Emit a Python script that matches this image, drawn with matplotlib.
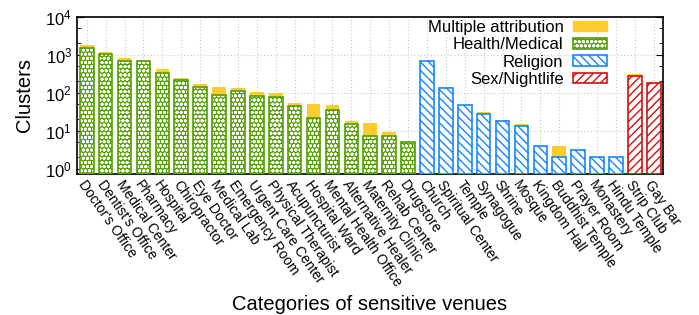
import matplotlib
matplotlib.use("Agg")
import matplotlib.pyplot as plt
import numpy as np
from matplotlib.patches import Patch
from matplotlib.legend_handler import HandlerTuple
from matplotlib.ticker import LogLocator, NullFormatter

plt.rcParams['font.family'] = ['Liberation Sans', 'DejaVu Sans']
plt.rcParams['hatch.linewidth'] = 1.0

health_names = ["Doctor's Office", "Dentist's Office", "Medical Center", "Pharmacy",
                "Hospital", "Chiropractor", "Eye Doctor", "Medical Lab", "Emergency Room",
                "Urgent Care Center", "Physical Therapist", "Acupuncturist", "Hospital Ward",
                "Mental Health Office", "Alternative Healer", "Maternity Clinic",
                "Rehab Center", "Drugstore"]
health_vals = [1490, 1020, 680, 668, 324, 212, 142, 86, 111, 82, 78, 44, 22, 35, 15, 7, 7, 5]
health_total = [1750, 1150, 796, 741, 412, 244, 167, 139, 131, 103, 97, 53, 50, 46, 18, 16, 9, 5]

religion_names = ["Church", "Spiritual Center", "Temple", "Synagogue", "Shrine", "Mosque",
                  "Kingdom Hall", "Buddhist Temple", "Prayer Room", "Monastery", "Hindu Temple"]
religion_vals = [668, 134, 46, 28, 18, 13, 4, 2, 3, 2, 2]
religion_total = [697, 139, 47, 30, 19, 15, 4, 4, 3, 2, 2]

sex_names = ["Strip Club", "Gay Bar"]
sex_vals = [282, 181]
sex_total = [310, 196]

green = '#52a000'
blue = '#1a85ff'
red = '#d01010'
yellow = '#fccb2f'

fig = plt.figure(figsize=(6.99, 3.15), dpi=100)
ax = fig.add_axes([0.110, 0.4476, 0.8385, 0.4994])

names = health_names + religion_names + sex_names
totals = health_total + religion_total + sex_total
x = np.arange(len(names))
w = 0.72
bottom = 0.72

xh = x[:len(health_names)]
xr = x[len(health_names):len(health_names) + len(religion_names)]
xs = x[len(health_names) + len(religion_names):]

# multiple attribution (total height behind)
ax.bar(x, np.array(totals) - bottom, w, bottom=bottom, color=yellow, linewidth=0, zorder=2)

# health: checker pattern
ax.bar(xh, np.array(health_vals) - bottom, w, bottom=bottom, facecolor=green,
       edgecolor='white', hatch='oooo', linewidth=0, zorder=3)
ax.bar(xh, np.array(health_vals) - bottom, w, bottom=bottom, facecolor='none',
       edgecolor=green, linewidth=1.2, zorder=4)
# religion
ax.bar(xr, np.array(religion_vals) - bottom, w, bottom=bottom, facecolor='white',
       edgecolor=blue, hatch='\\\\\\\\', linewidth=1.2, zorder=3)
# sex
ax.bar(xs, np.array(sex_vals) - bottom, w, bottom=bottom, facecolor='white',
       edgecolor=red, hatch='////', linewidth=1.2, zorder=3)

ax.set_yscale('log')
ax.set_ylim(bottom, 1e4)
ax.set_xlim(-0.52, len(names) - 0.51)
ax.yaxis.set_major_locator(LogLocator(base=10, numticks=10))
ax.yaxis.set_minor_locator(LogLocator(base=10, subs=(2, 5), numticks=10))
ax.yaxis.set_minor_formatter(NullFormatter())
ax.tick_params(axis='y', which='both', direction='in', left=True, right=True, labelsize=12)
ax.tick_params(axis='y', which='major', length=5)
ax.tick_params(axis='y', which='minor', length=3)
ax.set_xticks(x)
ax.set_xticklabels(names, rotation=-55, ha='left', va='top', rotation_mode='anchor', fontsize=10)
ax.tick_params(axis='x', length=0, pad=3)

ax.grid(True, which='major', color='#c8c8c8', linestyle=(0, (1, 2)), linewidth=0.8, zorder=0)
ax.set_axisbelow(True)
for s in ax.spines.values():
    s.set_linewidth(1.2)

ax.set_ylabel('Clusters', fontsize=14.5, labelpad=8)
ax.set_xlabel('Categories of sensitive venues', fontsize=14.5, labelpad=4)

green_handle = (Patch(facecolor=green, edgecolor='white', hatch='oooo', linewidth=0),
                Patch(facecolor='none', edgecolor=green, linewidth=1.2))
handles = [Patch(facecolor=yellow, edgecolor=yellow),
           green_handle,
           Patch(facecolor='white', edgecolor=blue, hatch='\\\\\\\\', linewidth=1.2),
           Patch(facecolor='white', edgecolor=red, hatch='////', linewidth=1.2)]
labels = ['Multiple attribution', 'Health/Medical', 'Religion', 'Sex/Nightlife']
leg = ax.legend(handles, labels, loc='upper right', bbox_to_anchor=(0.907, 0.99),
                frameon=False, markerfirst=False, fontsize=12, handlelength=2.0,
                handleheight=0.6, labelspacing=0.14, borderaxespad=0.0, borderpad=0.1,
                handletextpad=0.6,
                handler_map={tuple: HandlerTuple(ndivide=1, pad=0)})
for t in leg.get_texts():
    t.set_ha('right')

fig.savefig('out.png', dpi=100)
